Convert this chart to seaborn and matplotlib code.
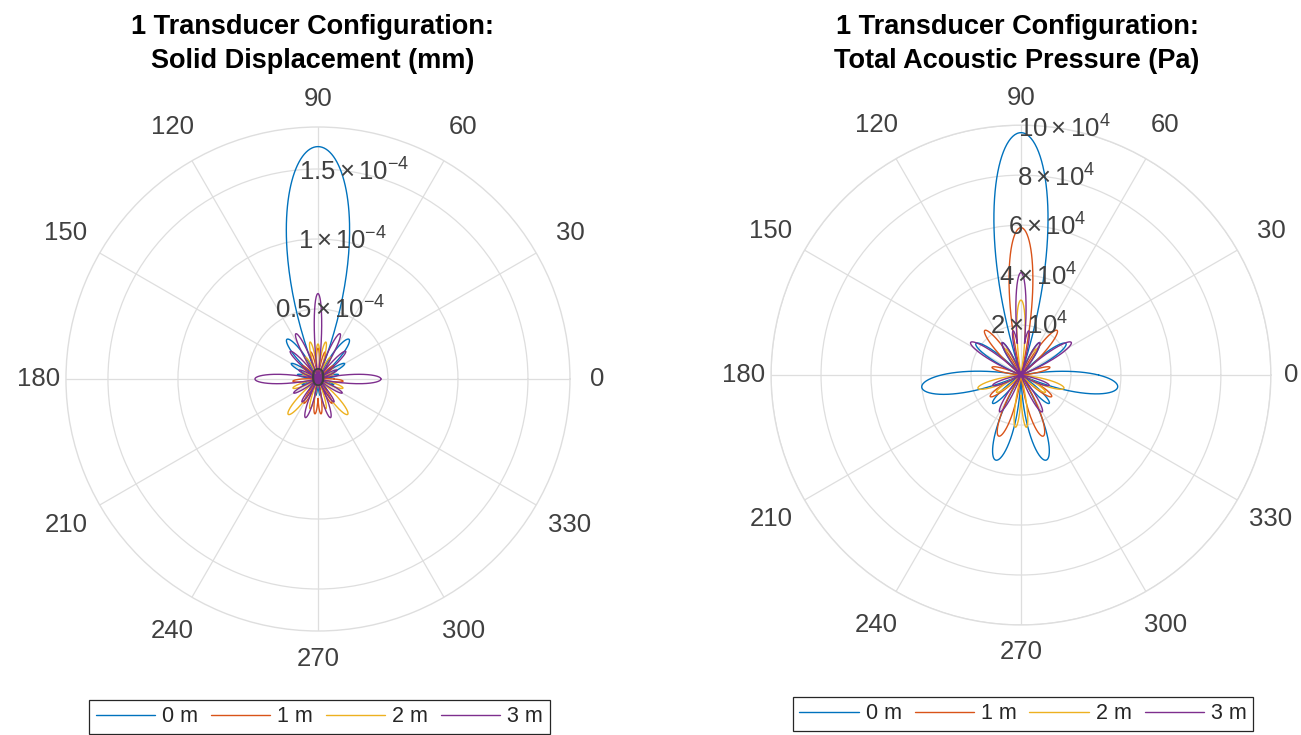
import numpy as np
import pandas as pd
import matplotlib
matplotlib.use("Agg")
import matplotlib.pyplot as plt
import seaborn as sns

sns.set_style("white")
plt.rcParams['font.family'] = ['Liberation Sans', 'DejaVu Sans']
plt.rcParams['mathtext.fontset'] = 'custom'
plt.rcParams['mathtext.rm'] = 'Liberation Sans'
plt.rcParams['mathtext.it'] = 'Liberation Sans'
plt.rcParams['mathtext.sf'] = 'Liberation Sans'

# ---------------- data ----------------
series_names = ["0 m", "1 m", "2 m", "3 m"]
series_colors = ["#0072BD", "#D95319", "#EDB120", "#7E2F8E"]

titles = [["1 Transducer Configuration:", "Solid Displacement (mm)"],
          ["1 Transducer Configuration:", "Total Acoustic Pressure (Pa)"]]

theta_ticks = [0, 30, 60, 90, 120, 150, 180, 210, 240, 270, 300, 330]

# left panel: solid displacement, radial unit 1e-4 mm
disp_rticks = [0, 0.5e-4, 1.0e-4, 1.5e-4]
disp_rlabels = ["0", r"$0.5\times10^{-4}$", r"$1\times10^{-4}$", r"$1.5\times10^{-4}$"]
disp_rmax = 1.8e-4
disp_scale = 1e-4
# lobe directions (deg), peak values (x1e-4), half widths (deg)
disp_0m_deg = [90, 128, 52, 150, 30, 168, 12, 200, 340, 232, 308, 262, 278]
disp_0m_amp = [1.66, 0.36, 0.36, 0.22, 0.22, 0.15, 0.15, 0.12, 0.12, 0.10, 0.10, 0.12, 0.12]
disp_0m_wid = [22, 13, 13, 10, 10, 9, 9, 9, 9, 9, 9, 8, 8]
disp_1m_deg = [90, 105, 75, 140, 40, 185, 355, 240, 300, 265, 275]
disp_1m_amp = [0.22, 0.20, 0.20, 0.15, 0.15, 0.18, 0.18, 0.20, 0.20, 0.25, 0.25]
disp_1m_wid = [8, 8, 8, 9, 9, 9, 9, 9, 9, 8, 8]
disp_2m_deg = [90, 102, 78, 120, 60, 160, 20, 200, 340, 230, 310, 255, 285]
disp_2m_amp = [0.25, 0.27, 0.27, 0.18, 0.18, 0.12, 0.12, 0.19, 0.19, 0.33, 0.33, 0.22, 0.22]
disp_2m_wid = [8, 8, 8, 9, 9, 9, 9, 10, 10, 12, 12, 8, 8]
disp_3m_deg = [90, 116, 64, 135, 45, 180, 0, 155, 25, 210, 330, 252, 288, 235, 305]
disp_3m_amp = [0.61, 0.36, 0.36, 0.28, 0.28, 0.45, 0.45, 0.15, 0.15, 0.20, 0.20, 0.29, 0.29, 0.20, 0.20]
disp_3m_wid = [7, 9, 9, 9, 9, 12, 12, 9, 9, 9, 9, 10, 10, 8, 8]

# right panel: total acoustic pressure, radial unit 1e4 Pa
pres_rticks = [2e4, 4e4, 6e4, 8e4, 10e4]
pres_rlabels = [r"$2\times10^{4}$", r"$4\times10^{4}$", r"$6\times10^{4}$",
                r"$8\times10^{4}$", r"$10\times10^{4}$"]
pres_rmax = 10e4
pres_scale = 1e4
pres_0m_deg = [90, 187, 353, 253.5, 286.5, 145, 35, 225, 315, 120, 60]
pres_0m_amp = [9.7, 4.0, 3.9, 3.55, 3.55, 2.2, 2.2, 1.6, 1.6, 1.5, 1.5]
pres_0m_wid = [18, 17, 17, 15, 15, 12, 12, 11, 11, 10, 10]
pres_1m_deg = [90, 250, 290, 129, 51, 215, 325, 165, 15]
pres_1m_amp = [5.9, 2.6, 2.6, 2.3, 2.3, 1.5, 1.5, 1.2, 1.2]
pres_1m_wid = [13, 13, 13, 11, 11, 11, 11, 10, 10]
pres_2m_deg = [90, 197, 343, 264, 276, 215, 325, 120, 60]
pres_2m_amp = [3.0, 1.8, 1.8, 2.1, 2.1, 1.2, 1.2, 1.2, 1.2]
pres_2m_wid = [9, 12, 12, 8, 8, 10, 10, 9, 9]
pres_3m_deg = [90, 147, 33, 100, 80, 240, 300, 200, 340, 120, 60]
pres_3m_amp = [4.1, 2.4, 2.4, 1.8, 1.8, 1.7, 1.7, 1.2, 1.2, 1.5, 1.5]
pres_3m_wid = [8, 11, 11, 7, 7, 10, 10, 10, 10, 9, 9]

disp_lobes = [(disp_0m_deg, disp_0m_amp, disp_0m_wid), (disp_1m_deg, disp_1m_amp, disp_1m_wid),
              (disp_2m_deg, disp_2m_amp, disp_2m_wid), (disp_3m_deg, disp_3m_amp, disp_3m_wid)]
pres_lobes = [(pres_0m_deg, pres_0m_amp, pres_0m_wid), (pres_1m_deg, pres_1m_amp, pres_1m_wid),
              (pres_2m_deg, pres_2m_amp, pres_2m_wid), (pres_3m_deg, pres_3m_amp, pres_3m_wid)]


def pattern(lobes, scale):
    deg = np.arange(0, 360.25, 0.25)
    frames = []
    for name, (d, a, w) in zip(series_names, lobes):
        r = np.zeros_like(deg)
        for dc, ac, wc in zip(d, a, w):
            dd = np.abs((deg - dc + 180) % 360 - 180)
            g = np.where(dd < wc, np.cos(np.pi / 2 * dd / wc), 0.0)
            r = np.maximum(r, ac * g)
        frames.append(pd.DataFrame({"theta": np.deg2rad(deg), "r": r * scale, "series": name}))
    return pd.concat(frames, ignore_index=True)


fig = plt.figure(figsize=(13.01, 7.35), dpi=100)
grid_col = "#dedede"
txt_col = "#404040"

panels = [
    dict(rect=[0.0507, 0.1415, 0.3874, 0.6857], lobes=disp_lobes, scale=disp_scale,
         rticks=disp_rticks, rlabels=disp_rlabels, rmax=disp_rmax, zero_f=1.11,
         title_x=0.2405, leg_x=0.2456, leg_y=0.0476),
    dict(rect=[0.5926, 0.1497, 0.3843, 0.680], lobes=pres_lobes, scale=pres_scale,
         rticks=pres_rticks, rlabels=pres_rlabels, rmax=pres_rmax, zero_f=1.08,
         title_x=0.7818, leg_x=0.7863, leg_y=0.0517),
]

for p, ttl in zip(panels, titles):
    ax = fig.add_axes(p["rect"], projection="polar")
    df = pattern(p["lobes"], p["scale"])
    sns.lineplot(data=df, x="theta", y="r", hue="series", palette=series_colors,
                 hue_order=series_names, sort=False, estimator=None, ax=ax,
                 linewidth=1.0, legend=False, zorder=3)
    ax.set_xlabel("")
    ax.set_ylabel("")
    ax.set_ylim(0, p["rmax"])
    ax.set_rticks(p["rticks"])
    ax.set_yticklabels([])
    ax.set_thetagrids(theta_ticks, labels=[""] * len(theta_ticks))
    ax.grid(True, color=grid_col, linewidth=0.9)
    ax.spines["polar"].set_color(grid_col)
    ax.spines["polar"].set_linewidth(1.0)
    ax.tick_params(length=0)
    # angle labels
    for t in theta_ticks:
        if t == 0:
            f = p["zero_f"]
        else:
            f = 1.11 if t % 90 == 0 else 1.155
        ax.text(np.deg2rad(t), p["rmax"] * f, str(t), ha="center", va="center",
                fontsize=18.5, color=txt_col, clip_on=False)
    # radial labels at 80 deg
    for rv, lab in zip(p["rticks"], p["rlabels"]):
        ax.text(np.deg2rad(80), rv, lab, ha="center", va="center", fontsize=18.5,
                color=txt_col, zorder=5)
    # titles
    fig.text(p["title_x"], 1 - 27 / 735, ttl[0], ha="center", va="center",
             fontsize=19.5, fontweight="bold", color="black")
    fig.text(p["title_x"], 1 - 61 / 735, ttl[1], ha="center", va="center",
             fontsize=19.5, fontweight="bold", color="black")
    handles = [plt.Line2D([], [], color=c, lw=1.0) for c in series_colors]
    ax.legend(handles, series_names, loc="upper center", ncol=4,
              bbox_to_anchor=(p["leg_x"], p["leg_y"]), bbox_transform=fig.transFigure,
              fontsize=15.5, frameon=True, fancybox=False, framealpha=1,
              edgecolor="#262626", handlelength=2.75, handletextpad=0.33,
              columnspacing=0.6, borderpad=0.3, borderaxespad=0)
    ax.get_legend().get_frame().set_linewidth(0.9)

fig.savefig("out.png", dpi=100)
